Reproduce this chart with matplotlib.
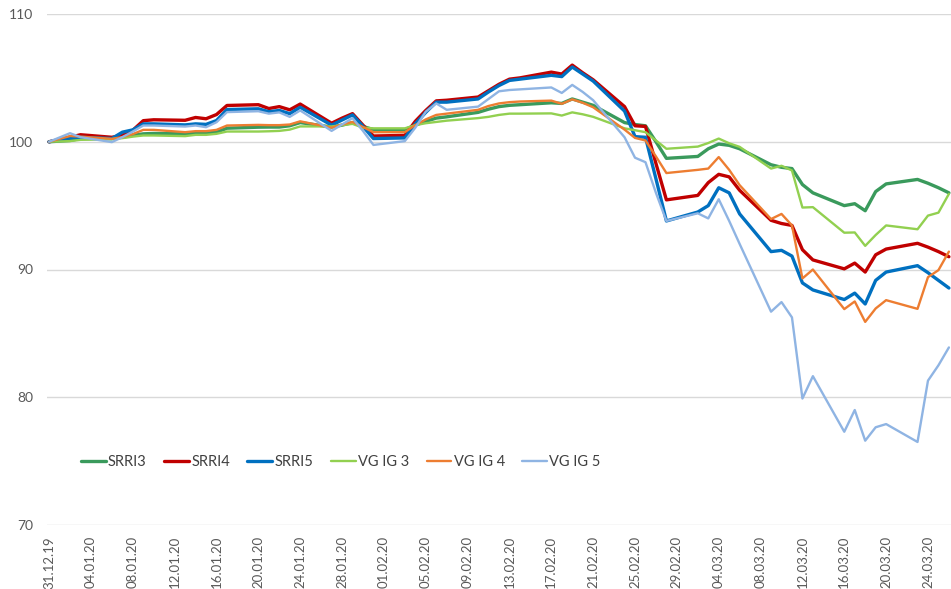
import matplotlib
matplotlib.use("Agg")
import matplotlib.pyplot as plt
import matplotlib.dates as mdates
import numpy as np
import pandas as pd

plt.rcParams['font.family'] = ['Lato', 'DejaVu Sans']

dates = ["2019-12-31", "2020-01-02", "2020-01-03", "2020-01-06", "2020-01-07", "2020-01-08", "2020-01-09", "2020-01-10",
         "2020-01-13", "2020-01-14", "2020-01-15", "2020-01-16", "2020-01-17",
         "2020-01-20", "2020-01-21", "2020-01-22", "2020-01-23", "2020-01-24",
         "2020-01-27", "2020-01-28", "2020-01-29", "2020-01-30", "2020-01-31",
         "2020-02-03", "2020-02-04", "2020-02-05", "2020-02-06", "2020-02-07",
         "2020-02-10", "2020-02-11", "2020-02-12", "2020-02-13", "2020-02-14",
         "2020-02-17", "2020-02-18", "2020-02-19", "2020-02-20", "2020-02-21",
         "2020-02-24", "2020-02-25", "2020-02-26", "2020-02-27", "2020-02-28",
         "2020-03-02", "2020-03-03", "2020-03-04", "2020-03-05", "2020-03-06",
         "2020-03-09", "2020-03-10", "2020-03-11", "2020-03-12", "2020-03-13",
         "2020-03-16", "2020-03-17", "2020-03-18", "2020-03-19", "2020-03-20",
         "2020-03-23", "2020-03-24", "2020-03-25", "2020-03-26"]

srri3 = [100.0, 100.1, 100.25, 100.25, 100.36, 100.5, 100.62, 100.65,
         100.62, 100.67, 100.67, 100.75, 101.06,
         101.14, 101.15, 101.15, 101.25, 101.5,
         101.15, 101.3, 101.5, 101.2, 100.95,
         100.95, 101.3, 101.6, 101.85, 101.95,
         102.3, 102.55, 102.75, 102.85, 102.9,
         103.05, 103.0, 103.35, 103.1, 102.85,
         101.5, 101.35, 101.25, 100.0, 98.7,
         98.85, 99.45, 99.82, 99.72, 99.45,
         98.2, 98.0, 97.9, 96.65, 96.0,
         95.0, 95.15, 94.6, 96.1, 96.7,
         97.05, 96.75, 96.4, 96.0]

srri4 = [100.0, 100.35, 100.55, 100.35, 100.5, 100.9, 101.65, 101.72,
         101.68, 101.9, 101.8, 102.13, 102.84,
         102.9, 102.6, 102.75, 102.5, 102.95,
         101.45, 101.85, 102.2, 101.3, 100.45,
         100.5, 101.6, 102.45, 103.2, 103.25,
         103.5, 104.0, 104.5, 104.9, 105.0,
         105.45, 105.3, 106.0, 105.4, 104.85,
         102.75, 101.25, 101.2, 98.3, 95.45,
         95.8, 96.8, 97.45, 97.25, 96.2,
         93.85, 93.6, 93.45, 91.55, 90.75,
         90.05, 90.5, 89.8, 91.15, 91.6,
         92.05, 91.75, 91.4, 91.0]

srri5 = [100.0, 100.3, 100.35, 100.25, 100.75, 100.93, 101.4, 101.4,
         101.32, 101.4, 101.36, 101.66, 102.52,
         102.58, 102.35, 102.45, 102.2, 102.7,
         101.3, 101.7, 102.1, 101.2, 100.25,
         100.3, 101.4, 102.3, 103.1, 103.1,
         103.35, 103.9, 104.4, 104.8, 104.9,
         105.2, 105.1, 105.85, 105.3, 104.75,
         102.4, 100.4, 100.35, 97.1, 93.8,
         94.5, 95.0, 96.4, 96.0, 94.35,
         91.4, 91.5, 91.05, 88.95, 88.4,
         87.65, 88.15, 87.3, 89.15, 89.8,
         90.3, 89.75, 89.15, 88.55]

vg3 = [100.0, 100.05, 100.15, 100.2, 100.28, 100.4, 100.49, 100.49,
       100.44, 100.54, 100.54, 100.62, 100.8,
       100.8, 100.82, 100.85, 100.95, 101.2,
       101.2, 101.3, 101.4, 101.1, 101.05,
       101.05, 101.3, 101.45, 101.55, 101.65,
       101.85, 101.95, 102.1, 102.2, 102.2,
       102.22, 102.05, 102.3, 102.15, 101.95,
       101.05, 100.9, 100.75, 100.1, 99.45,
       99.62, 99.9, 100.25, 99.88, 99.6,
       97.9, 98.12, 97.75, 94.85, 94.88,
       92.88, 92.9, 91.85, 92.7, 93.45,
       93.15, 94.22, 94.45, 95.92]

vg4 = [100.0, 100.45, 100.4, 100.23, 100.36, 100.6, 100.93, 100.93,
       100.75, 100.83, 100.83, 100.93, 101.27,
       101.32, 101.3, 101.3, 101.35, 101.6,
       101.1, 101.35, 101.55, 101.15, 100.75,
       100.75, 101.3, 101.75, 102.1, 102.2,
       102.5, 102.8, 103.0, 103.1, 103.15,
       103.22, 102.97, 103.32, 103.05, 102.7,
       100.95, 100.3, 100.1, 98.85, 97.55,
       97.8, 97.9, 98.8, 97.8, 96.6,
       93.95, 94.35, 93.45, 89.3, 90.0,
       86.9, 87.5, 85.9, 86.95, 87.6,
       86.92, 89.4, 89.95, 91.4]

vg5 = [100.0, 100.67, 100.36, 99.97, 100.36, 100.8, 101.27, 101.27,
       101.19, 101.27, 101.14, 101.53, 102.32,
       102.39, 102.2, 102.3, 101.95, 102.45,
       100.85, 101.35, 101.85, 100.85, 99.75,
       100.05, 101.1, 102.35, 103.0, 102.5,
       102.75, 103.35, 103.95, 104.05, 104.1,
       104.25, 103.82, 104.45, 103.9, 103.25,
       100.35, 98.75, 98.4, 96.0, 93.8,
       94.4, 94.0, 95.5, 93.8, 92.0,
       86.7, 87.45, 86.25, 79.9, 81.65,
       77.3, 79.0, 76.6, 77.65, 77.9,
       76.5, 81.3, 82.5, 83.9]

names = ["SRRI3", "SRRI4", "SRRI5", "VG IG 3", "VG IG 4", "VG IG 5"]
series = [srri3, srri4, srri5, vg3, vg4, vg5]
colors = ["#3A9A5C", "#C00000", "#0070C0", "#92D050", "#ED7D31", "#8FB4E3"]
widths = [2.4, 2.4, 2.4, 1.7, 1.7, 1.7]

yticks = [70, 80, 90, 100, 110]

x = pd.to_datetime(dates)

fig = plt.figure(figsize=(9.51, 5.89), dpi=100)
ax = fig.add_axes([47 / 951, 1 - 525 / 589, 904 / 951, 511 / 589])

for name, s, c, w in zip(names, series, colors, widths):
    ax.plot(x, s, color=c, lw=w, label=name, solid_joinstyle='round', solid_capstyle='round')

x0 = mdates.date2num(x[0])
x1 = mdates.date2num(x[-1])
ax.set_xlim(x0 - 0.2, x1 + 0.2)
ax.set_ylim(70, 110)
ax.set_yticks(yticks)
ax.grid(axis='y', color='#D9D9D9', lw=1.0)
ax.set_axisbelow(True)
for sp in ax.spines.values():
    sp.set_visible(False)

tick_dates = pd.date_range(x[0], x[-1], freq='4D')
ax.set_xticks(mdates.date2num(tick_dates))
ax.set_xticklabels([d.strftime('%d.%m.%y') for d in tick_dates], rotation=90,
                   fontsize=9.5, color='#595959', va='top', ha='center')
ax.tick_params(axis='x', length=0, pad=8)
ax.tick_params(axis='y', length=0, pad=10, labelsize=10, labelcolor='#595959')

leg = ax.legend(loc='center left', bbox_to_anchor=(0.0376, 0.1233), ncol=6, frameon=False,
                borderpad=0, borderaxespad=0, handlelength=1.7, handletextpad=0.15,
                columnspacing=1.2, fontsize=10.5)
for t in leg.get_texts():
    t.set_color('#404040')

fig.savefig("out.png", dpi=100)
